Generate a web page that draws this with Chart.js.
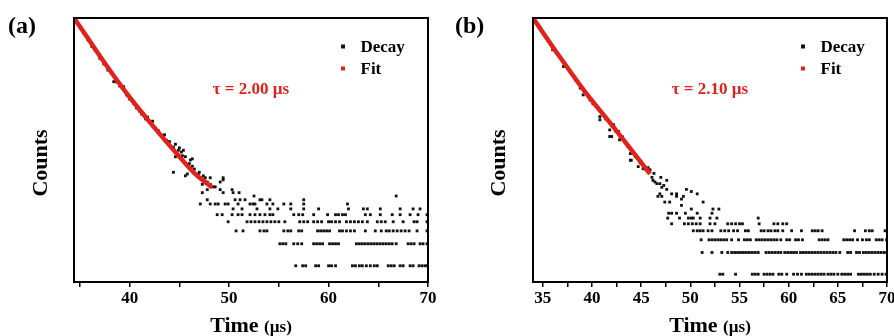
<!DOCTYPE html>
<html>
<head>
<meta charset="utf-8">
<script src="https://cdn.jsdelivr.net/npm/chart.js@4.4.1/dist/chart.umd.min.js"></script>
<style>
  html, body { margin: 0; padding: 0; background: #fff; overflow: hidden; }
  .panel { position: absolute; top: 0; width: 447px; height: 336px; }
</style>
</head>
<body>
<div class="panel" style="left:0"><canvas id="chartA"></canvas></div>
<div class="panel" style="left:447px"><canvas id="chartB"></canvas></div>
<script>
const FONT = "'Liberation Serif', 'Times New Roman', serif";
const RED = '#e3201b';

// ---- panel (a), tau = 2.00 us ----
const xTicksA = [35, 40, 45, 50, 55, 60, 65, 70];
const xLabelsA = [40, 50, 60, 70];
const fitTA = [34.4, 35.8, 37.0, 39.7, 42.4, 45.1, 46.5, 48.3];
const fitCA = [2450, 1295, 740, 228, 80, 30, 18.5, 11.8];
// decay points around the fit (time, counts)
const headTA = [34.6, 35.0, 35.4, 35.8, 36.2, 36.5, 37.0, 37.4, 37.8, 38.4,
  38.7, 39.0, 39.4, 39.7, 40.0, 40.4, 40.7, 41.2, 41.6, 42.1,
  42.6, 42.9, 43.4, 43.7, 44.1, 44.4, 44.6, 44.4, 44.9, 45.4,
  45.6, 45.9, 45.6, 46.1, 46.3, 46.3, 45.8, 46.8, 46.9, 47.1,
  47.4, 47.4, 47.8, 48.1, 48.1, 48.4, 47.3, 47.3, 47.8, 48.6,
  49.1, 49.4, 49.4, 49.1, 49.4, 50.3, 50.4, 51.0, 52.5,
  41.0, 41.8, 42.3, 43.0, 43.5, 44.0, 44.6, 45.0, 45.3, 46.0,
  46.5, 47.0, 47.6, 45.2, 43.9];
const headCA = [2235, 1849, 1531, 1227, 994, 896, 689, 576, 476, 330,
  326, 288, 281, 217, 191, 167, 144, 119, 102, 89,
  76, 70, 58, 52, 43, 42, 31, 19, 38, 38,
  31, 23, 17, 28, 29, 23, 18, 17, 18, 16,
  15, 17, 14, 13, 16, 12, 13, 10, 11, 12,
  14, 16, 15, 11, 10, 11, 10, 10, 9,
  130, 108, 95, 64, 62, 50, 46, 41, 32, 25,
  21, 19, 16, 36, 48];
// tail: times where the count is 1, 2, 3 ...
const rowA1 = [56.7, 57.4, 57.7, 58.7, 59.0, 60.0, 60.3, 60.7, 62.4, 62.7, 63.1, 63.4, 63.8, 64.2, 64.6, 64.9, 66.0, 66.3, 66.6, 67.2, 67.5, 68.2, 68.5, 69.1, 69.4, 69.7, 69.95];
const rowA2 = [55.1, 55.4, 55.7, 56.5, 56.9, 57.3, 58.5, 58.8, 59.1, 59.4, 60.1, 60.4, 60.7, 61.0, 62.8, 63.1, 63.4, 63.7, 64.0, 64.3, 64.6, 64.9, 65.2, 65.5, 65.8, 66.1, 66.4, 66.8, 68.0, 68.3, 68.6, 69.2, 69.5, 69.9];
const rowA3 = [50.7, 51.4, 53.1, 53.5, 53.8, 55.5, 55.9, 56.2, 57.0, 57.3, 58.9, 59.2, 59.5, 59.8, 60.1, 61.1, 61.4, 61.8, 62.2, 62.6, 63.7, 64.7, 65.3, 65.8, 66.1, 66.5, 66.9, 67.3, 67.7, 68.1, 68.9, 69.9];
const rowA4 = [49.9, 51.8, 52.2, 52.6, 53.0, 53.4, 53.8, 54.2, 54.6, 55.0, 55.6, 57.1, 57.5, 57.9, 58.5, 58.9, 59.3, 60.0, 60.3, 60.7, 61.1, 61.8, 62.2, 62.6, 63.0, 63.4, 63.9, 64.9, 65.3, 65.7, 66.5, 67.5, 68.6, 68.9, 69.9];
const rowA5 = [48.8, 49.3, 50.3, 50.9, 51.3, 52.1, 52.6, 53.1, 53.6, 54.1, 54.4, 56.5, 57.0, 57.4, 58.5, 59.9, 60.7, 61.0, 61.4, 61.7, 63.7, 64.2, 65.2, 66.4, 67.2, 68.2, 69.0, 69.9];
const rowA6 = [50.4, 51.3, 52.8, 54.1, 54.9, 56.2, 57.5, 59.0, 62.0, 63.5, 63.9, 65.2, 67.2, 68.5, 69.2];
const rowA7 = [47.1, 48.1, 48.6, 48.9, 49.6, 49.9, 50.9, 52.1, 52.4, 52.6, 53.8, 54.4, 55.5, 56.2, 57.5, 61.9];
const rowA8 = [47.8, 50.6, 51.1, 51.6, 53.1, 53.3, 54.1, 57.5];
const rowA9 = [66.8];

// ---- panel (b), tau = 2.10 us ----
const xTicksB = [35, 37.5, 40, 42.5, 45, 47.5, 50, 52.5, 55, 57.5, 60, 62.5, 65, 67.5, 70];
const xLabelsB = [35, 40, 45, 50, 55, 60, 65, 70];
const fitTB = [34.0, 36.7, 39.4, 42.15, 44.0, 45.9];
const fitCB = [3560, 1042, 323, 111, 53, 24.5];
const headTB = [34.7, 35.5, 36.0, 36.3, 37.1, 37.3, 38.3, 38.4, 39.1, 39.4,
  39.8, 40.4, 40.8, 40.8, 41.4, 41.8, 41.8, 42.0, 42.4, 42.5,
  42.7, 42.8, 43.5, 43.9, 43.9, 44.0, 44.4, 44.5, 44.7, 44.9,
  45.2, 45.4, 45.5, 45.9, 46.1, 46.4, 46.2, 46.6, 47.1, 47.6,
  46.9, 46.7, 47.1, 47.6, 48.1, 48.6, 47.4, 47.9, 48.6, 49.1,
  49.1, 49.6, 50.1, 50.7, 51.3, 49.3,
  38.8, 40.1, 41.1, 42.2, 43.1, 43.6, 44.2, 45.0, 45.7, 46.3,
  47.0, 46.9, 47.3];
const headCB = [2610, 1778, 1291, 1212, 757, 774, 495, 495, 306, 326,
  261, 215, 153, 138, 142, 100, 81, 81, 97, 95,
  95, 73, 64, 47, 38, 38, 43, 42, 31, 35,
  29, 29, 28, 28, 22, 19, 20, 18, 16, 20,
  13, 12, 12, 15, 13, 13, 10, 10, 12, 11,
  9, 15, 14, 13, 10, 12,
  380, 230, 170, 118, 80, 60, 48, 36, 30, 25,
  22, 18, 17];
const rowB1 = [53.0, 53.3, 54.6, 56.3, 56.6, 56.9, 57.5, 57.8, 58.1, 58.4, 59.0, 59.3, 59.8, 60.5, 60.9, 61.3, 61.8, 62.1, 62.4, 62.7, 63.0, 63.3, 63.6, 64.0, 64.3, 64.6, 65.0, 65.4, 65.7, 66.0, 66.3, 67.1, 67.4, 67.7, 68.0, 68.3, 68.7, 69.1, 69.5, 69.9];
const rowB2 = [51.2, 52.2, 53.2, 53.8, 54.2, 54.5, 54.8, 55.1, 55.4, 55.7, 56.0, 56.3, 56.6, 56.9, 57.7, 58.0, 58.3, 58.6, 58.9, 59.2, 59.6, 59.9, 60.2, 60.5, 60.8, 61.2, 61.5, 61.8, 62.1, 62.4, 62.7, 63.0, 63.3, 63.6, 63.9, 64.2, 64.5, 64.8, 65.2, 66.0, 66.3, 66.9, 67.2, 67.6, 67.9, 68.2, 68.5, 68.8, 69.1, 69.4, 69.7, 69.97];
const rowB3 = [51.1, 51.9, 52.2, 52.5, 52.8, 53.1, 53.4, 53.7, 54.2, 54.9, 55.5, 55.8, 56.1, 56.7, 57.0, 57.3, 57.6, 57.9, 58.2, 58.5, 58.8, 59.2, 59.8, 60.1, 60.7, 61.0, 61.4, 63.1, 63.4, 63.7, 64.0, 65.6, 65.9, 66.2, 66.5, 67.0, 67.5, 67.9, 68.2, 68.9, 69.2, 69.5, 69.95];
const rowB4 = [50.3, 50.7, 51.0, 51.3, 51.8, 52.2, 53.1, 53.5, 53.9, 54.4, 54.8, 55.6, 55.9, 57.2, 57.5, 57.9, 58.2, 58.6, 58.9, 59.4, 60.3, 61.3, 62.4, 62.7, 63.0, 63.4, 66.7, 67.8, 68.2, 68.5, 69.8];
const rowB5 = [48.1, 49.4, 49.8, 50.2, 50.6, 51.0, 52.0, 52.5, 53.8, 54.2, 54.6, 55.0, 55.3, 57.0, 58.5, 58.9, 59.4, 59.8];
const rowB6 = [47.7, 48.9, 49.8, 50.1, 50.3, 51.0, 52.0, 52.7, 56.9];
const rowB7 = [47.8, 48.1, 48.6, 49.5, 50.7, 52.2];
const rowB8 = [50.1, 52.3, 52.9];

function decayPoints(headT, headC, rows) {
  const pts = headT.map((t, i) => ({ x: t, y: headC[i] }));
  // rows[k] holds the channels with count k + 1
  rows.forEach((row, k) => row.forEach(t => pts.push({ x: t, y: k + 1 })));
  return pts;
}

function fitPoints(t, c) {
  return t.map((v, i) => ({ x: v, y: c[i] }));
}

// box frame, axis titles, legend and tau label
const frameAndText = {
  id: 'frameAndText',
  afterDraw(chart, args, o) {
    const { ctx, chartArea: a } = chart;
    const cx = (a.left + a.right) / 2;
    ctx.save();
    ctx.strokeStyle = '#000';
    ctx.lineWidth = 2;
    ctx.strokeRect(a.left, a.top, a.right - a.left, a.bottom - a.top);

    ctx.fillStyle = '#000';
    ctx.textAlign = 'left';
    ctx.textBaseline = 'alphabetic';
    ctx.font = `bold 24px ${FONT}`;
    ctx.fillText(o.panel, 8, 33);

    ctx.save();
    ctx.translate(o.yTitleX, 163);
    ctx.rotate(-Math.PI / 2);
    ctx.font = `bold 22px ${FONT}`;
    ctx.textAlign = 'center';
    ctx.textBaseline = 'middle';
    ctx.fillText('Counts', 0, 0);
    ctx.restore();

    ctx.font = `bold 22px ${FONT}`;
    const w1 = ctx.measureText('Time ').width;
    ctx.font = `bold 17px ${FONT}`;
    const w2 = ctx.measureText('(µs)').width;
    const x0 = cx - (w1 + w2) / 2;
    ctx.font = `bold 22px ${FONT}`;
    ctx.fillText('Time ', x0, 332);
    ctx.font = `bold 17px ${FONT}`;
    ctx.fillText('(µs)', x0 + w1, 332);

    ctx.fillStyle = RED;
    ctx.textAlign = 'center';
    ctx.fillText(o.tau, cx, 94);

    // legend: Decay first, then Fit
    const items = [chart.data.datasets[1], chart.data.datasets[0]];
    ctx.textAlign = 'left';
    items.forEach((ds, i) => {
      const my = 46.5 + i * 22;
      ctx.fillStyle = ds.backgroundColor;
      ctx.fillRect(o.legendX - 2, my - 2, 4, 4);
      ctx.fillStyle = '#000';
      ctx.fillText(ds.label, o.legendX + 17.5, my + 5);
    });
    ctx.restore();
  }
};

function makeChart(id, cfg) {
  return new Chart(document.getElementById(id), {
    type: 'scatter',
    data: {
      datasets: [
        {
          label: 'Fit',
          data: cfg.fit,
          showLine: true,
          borderColor: RED,
          backgroundColor: RED,
          borderWidth: 4.5,
          pointRadius: 0,
          cubicInterpolationMode: 'monotone'
        },
        {
          label: 'Decay',
          data: cfg.decay,
          pointStyle: 'rect',
          pointRadius: 2,
          borderWidth: 0,
          backgroundColor: '#111',
          borderColor: '#111'
        }
      ]
    },
    options: {
      responsive: true,
      maintainAspectRatio: false,
      animation: false,
      events: [],
      layout: { padding: { left: 0, top: 18, right: cfg.padRight, bottom: 0 } },
      scales: {
        x: {
          type: 'linear',
          min: cfg.xMin,
          max: 70,
          afterBuildTicks: s => { s.ticks = cfg.xTicks.map(v => ({ value: v })); },
          afterFit: s => { s.height = 54; s.paddingLeft = 0; s.paddingRight = 0; },
          ticks: {
            autoSkip: false,
            maxRotation: 0,
            padding: 1,
            color: '#000',
            font: { family: FONT, size: 17, weight: 'bold' },
            callback: v => (cfg.xLabels.includes(v) ? String(v) : '')
          },
          grid: { drawOnChartArea: false, color: '#000', lineWidth: 1.5, tickLength: 5 },
          border: { display: false }
        },
        y: {
          type: 'logarithmic',
          min: cfg.yMin,
          max: cfg.yMax,
          afterFit: s => { s.width = cfg.yWidth; s.paddingTop = 0; s.paddingBottom = 0; },
          ticks: { display: false },
          grid: { display: false },
          border: { display: false }
        }
      },
      plugins: {
        legend: { display: false },
        tooltip: { enabled: false },
        frameAndText: cfg.text
      }
    },
    plugins: [frameAndText]
  });
}

makeChart('chartA', {
  fit: fitPoints(fitTA, fitCA),
  decay: decayPoints(headTA, headCA, [rowA1, rowA2, rowA3, rowA4, rowA5, rowA6, rowA7, rowA8, rowA9]),
  xMin: 34.4, yMin: 0.6, yMax: 2450,
  xTicks: xTicksA, xLabels: xLabelsA,
  yWidth: 74, padRight: 19,
  text: { panel: '(a)', tau: 'τ = 2.00 µs', yTitleX: 41.5, legendX: 343 }
});

makeChart('chartB', {
  fit: fitPoints(fitTB, fitCB),
  decay: decayPoints(headTB, headCB, [rowB1, rowB2, rowB3, rowB4, rowB5, rowB6, rowB7, rowB8]),
  xMin: 34.0, yMin: 0.78, yMax: 3560,
  xTicks: xTicksB, xLabels: xLabelsB,
  yWidth: 86, padRight: 7,
  text: { panel: '(b)', tau: 'τ = 2.10 µs', yTitleX: 52.5, legendX: 356 }
});
</script>
</body>
</html>
